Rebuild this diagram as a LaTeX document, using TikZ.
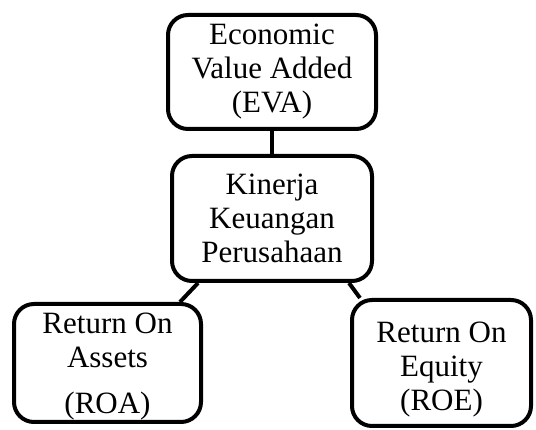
\documentclass[tikz,border=0pt]{standalone}
\usepackage{fontspec}
\setmainfont{Liberation Serif}
\usetikzlibrary{backgrounds}
\begin{document}
\begin{tikzpicture}[x=1pt,y=1pt,
  box/.style={draw=black,line width=4pt,rounded corners=20pt,fill=white,
    align=center,inner sep=0pt,font=\fontsize{31}{34}\selectfont},
  conn/.style={draw=black,line width=4pt}]
\useasboundingbox (0,0) rectangle (536,430);
\node[box,minimum width=208pt,minimum height=114pt] (eva) at (272,358) {Economic\\Value Added\\(EVA)};
\node[box,minimum width=200pt,minimum height=125pt] (mid) at (272,211.5) {Kinerja\\Keuangan\\Perusahaan};
\node[box,minimum width=187pt,minimum height=118pt] (roa) at (107.5,67) {\rule{0pt}{27pt}Return On\\Assets\\[12pt](ROA)};
\node[box,minimum width=179pt,minimum height=126pt] (roe) at (441.5,67) {\rule{0pt}{33pt}Return On\\Equity\\(ROE)};
\begin{scope}[on background layer]
\fill[white] (0,0) rectangle (536,430);
\draw[conn] (eva.south) -- (mid.north);
\draw[conn] ([xshift=28pt]mid.south west) -- ([xshift=-23pt]roa.north east);
\draw[conn] ([xshift=-25pt]mid.south east) -- ([xshift=10pt]roe.north west);
\end{scope}
\end{tikzpicture}
\end{document}
